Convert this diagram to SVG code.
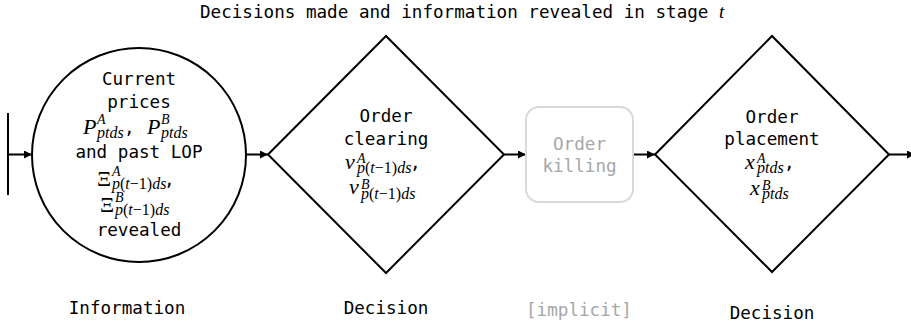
<svg xmlns="http://www.w3.org/2000/svg" width="911" height="327" viewBox="0 0 911 327">
  <defs>
    <marker id="arrow" viewBox="0 0 10 10" refX="10" refY="5" markerWidth="9" markerHeight="8" markerUnits="userSpaceOnUse" orient="auto">
      <path d="M0,0 L10,5 L0,10 z" fill="#000"/>
    </marker>
    <style>
      .txt { font-family: "DejaVu Sans Mono", "Liberation Mono", monospace; font-size: 17.6px; fill: #000; }
      .mid { text-anchor: middle; }
      .gray { fill: #a6a6a6; }
      .m { font-family: "Liberation Serif", "DejaVu Serif", serif; font-style: italic; fill: #000; }
      .big { font-size: 22px; }
      .sm { font-size: 16px; }
      .sup { font-size: 14px; }
      .up { font-style: normal; }
      .shape { fill: #fff; stroke: #000; stroke-width: 2; }
      .ghost { fill: #fff; stroke: #d9d9d9; stroke-width: 2; }
      .conn { stroke: #000; stroke-width: 2; fill: none; }
    </style>
  </defs>

  <rect width="911" height="327" fill="#fff"/>

  <!-- heading -->
  <text class="txt" x="200" y="18">Decisions made and information revealed in stage <tspan class="m" font-size="19">t</tspan></text>

  <!-- connectors -->
  <g id="connectors">
    <line class="conn" x1="8" y1="113" x2="8" y2="195" stroke-width="2.5"/>
    <line class="conn" x1="8" y1="154.5" x2="32" y2="154.5" marker-end="url(#arrow)"/>
    <line class="conn" x1="246" y1="154.5" x2="268" y2="154.5" marker-end="url(#arrow)"/>
    <line class="conn" x1="504" y1="154.5" x2="526" y2="154.5" marker-end="url(#arrow)"/>
    <line class="conn" x1="633" y1="154.5" x2="655" y2="154.5" marker-end="url(#arrow)"/>
    <line class="conn" x1="889" y1="154.5" x2="915" y2="154.5" marker-end="url(#arrow)"/>
  </g>

  <!-- information node -->
  <g id="info">
    <circle class="shape" cx="139" cy="155" r="107"/>
    <text class="txt mid" x="139" y="85">Current</text>
    <text class="txt mid" x="139" y="108">prices</text>
    <text class="m big" x="83" y="134">P</text>
    <text class="m sup" x="97" y="124">A</text>
    <text class="m sm" x="97" y="138">ptds</text>
    <text class="txt" x="124" y="134">,</text>
    <text class="m big" x="147" y="134">P</text>
    <text class="m sup" x="161" y="124">B</text>
    <text class="m sm" x="161" y="138">ptds</text>
    <text class="txt mid" x="139" y="158">and past LOP</text>
    <text class="m big up" x="97" y="186">Ξ</text>
    <text class="m sup" x="112" y="176">A</text>
    <text class="m sm" x="112" y="189">p<tspan class="up">(</tspan>t<tspan class="up">−1)</tspan>ds</text>
    <text class="txt" x="164" y="186">,</text>
    <text class="m big up" x="100" y="212">Ξ</text>
    <text class="m sup" x="115" y="202">B</text>
    <text class="m sm" x="115" y="215">p<tspan class="up">(</tspan>t<tspan class="up">−1)</tspan>ds</text>
    <text class="txt mid" x="139" y="236">revealed</text>
    <text class="txt mid" x="127" y="314">Information</text>
  </g>

  <!-- clearing decision -->
  <g id="clearing">
    <polygon class="shape" points="268,154.5 386,36 504,154.5 386,273"/>
    <text class="txt mid" x="386" y="122">Order</text>
    <text class="txt mid" x="386" y="145">clearing</text>
    <text class="m big" x="345" y="169">v</text>
    <text class="m sup" x="357" y="163">A</text>
    <text class="m sm" x="357" y="173">p<tspan class="up">(</tspan>t<tspan class="up">−1)</tspan>ds</text>
    <text class="txt" x="410" y="169">,</text>
    <text class="m big" x="349" y="194">v</text>
    <text class="m sup" x="361" y="189">B</text>
    <text class="m sm" x="361" y="199">p<tspan class="up">(</tspan>t<tspan class="up">−1)</tspan>ds</text>
    <text class="txt mid" x="386" y="314">Decision</text>
  </g>

  <!-- implicit killing step -->
  <g id="killing">
    <rect class="ghost" x="526" y="107" width="107" height="95" rx="13" ry="13"/>
    <text class="txt mid gray" x="579.5" y="150">Order</text>
    <text class="txt mid gray" x="579.5" y="172">killing</text>
    <text class="txt mid gray" x="579" y="316">[implicit]</text>
  </g>

  <!-- placement decision -->
  <g id="placement">
    <polygon class="shape" points="655,154.5 772,36 889,154.5 772,272"/>
    <text class="txt mid" x="772" y="123">Order</text>
    <text class="txt mid" x="772" y="145">placement</text>
    <text class="m big" x="745" y="169">x</text>
    <text class="m sup" x="757" y="163">A</text>
    <text class="m sm" x="757" y="173">ptds</text>
    <text class="txt" x="784" y="169">,</text>
    <text class="m big" x="750" y="195">x</text>
    <text class="m sup" x="762" y="190">B</text>
    <text class="m sm" x="762" y="199">ptds</text>
    <text class="txt mid" x="772" y="319">Decision</text>
  </g>
</svg>
